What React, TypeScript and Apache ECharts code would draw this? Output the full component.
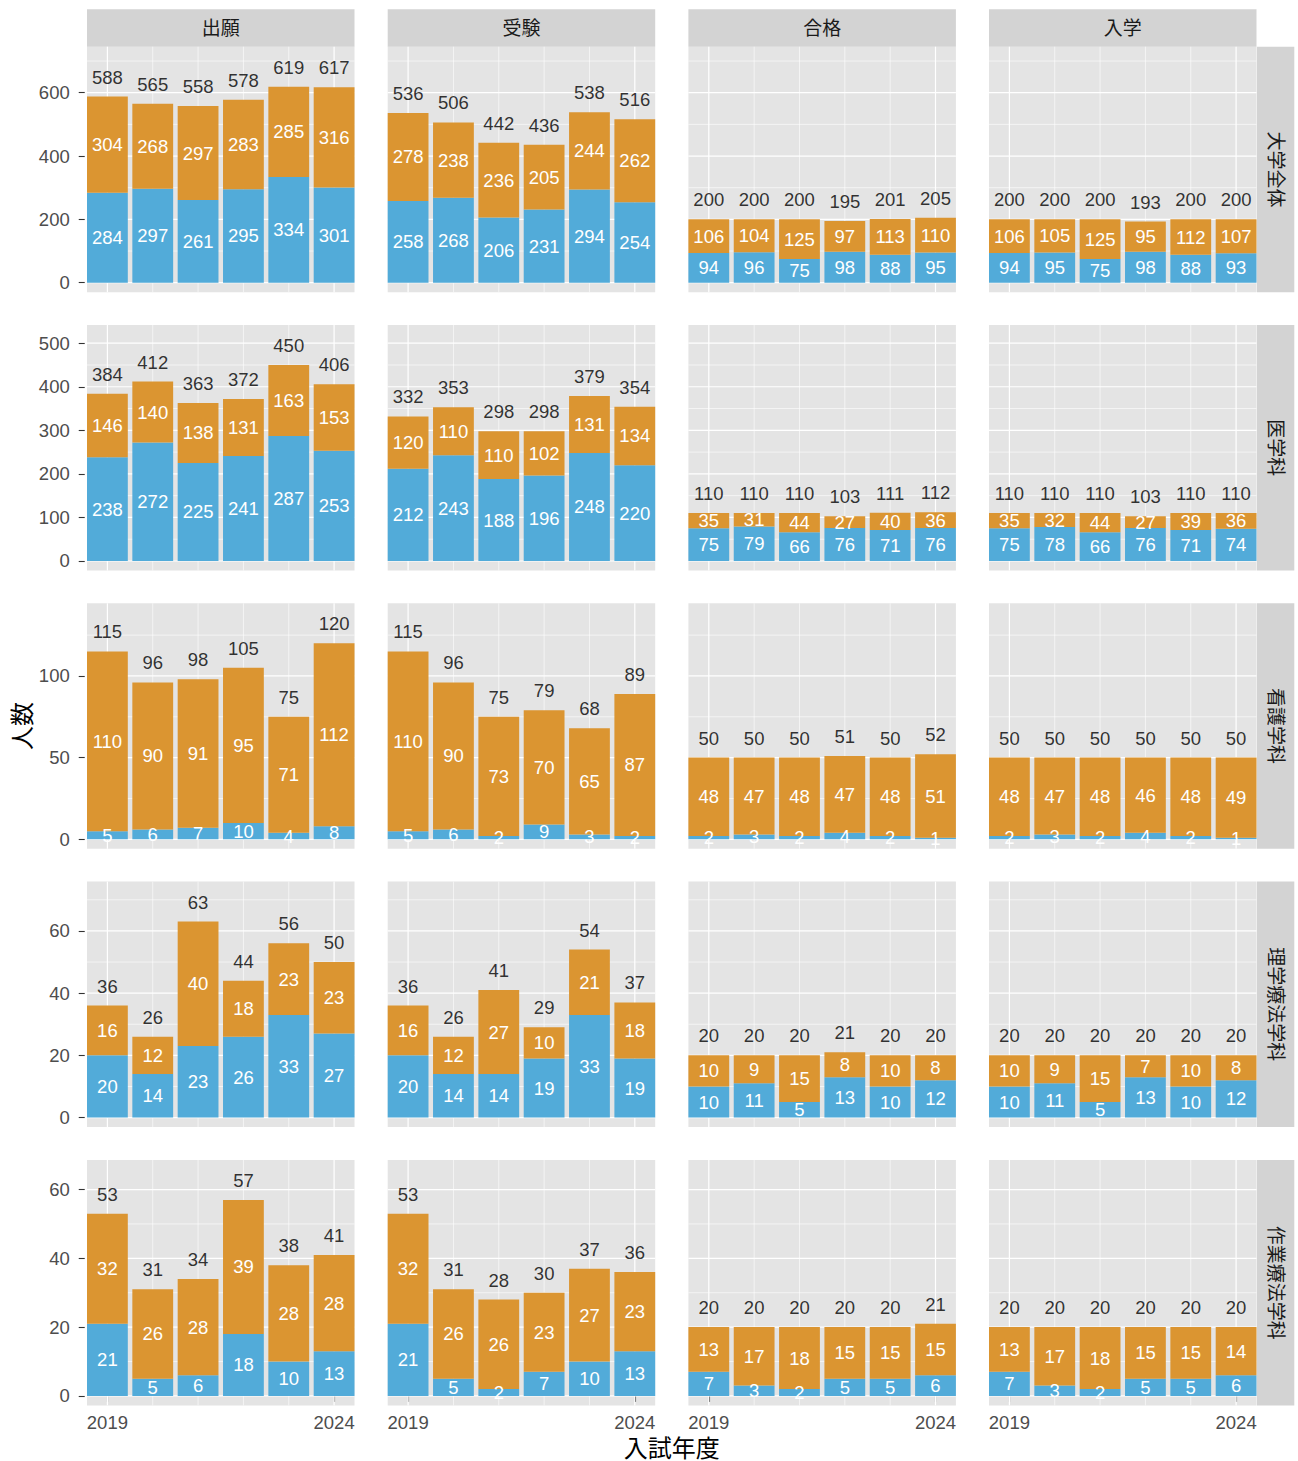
import React, { useEffect, useRef } from 'react';
import * as echarts from 'echarts';

// ---------- data ----------
const years = ['2019', '2020', '2021', '2022', '2023', '2024'];
const stages = ['出願', '受験', '合格', '入学'];
const depts = ['大学全体', '医学科', '看護学科', '理学療法学科', '作業療法学科'];
const xTickLabels = ['2019', '2024'];

// per department: [出願, 受験, 合格, 入学] x years
const blueUniv = [[284, 297, 261, 295, 334, 301], [258, 268, 206, 231, 294, 254], [94, 96, 75, 98, 88, 95], [94, 95, 75, 98, 88, 93]];
const orangeUniv = [[304, 268, 297, 283, 285, 316], [278, 238, 236, 205, 244, 262], [106, 104, 125, 97, 113, 110], [106, 105, 125, 95, 112, 107]];
const blueMed = [[238, 272, 225, 241, 287, 253], [212, 243, 188, 196, 248, 220], [75, 79, 66, 76, 71, 76], [75, 78, 66, 76, 71, 74]];
const orangeMed = [[146, 140, 138, 131, 163, 153], [120, 110, 110, 102, 131, 134], [35, 31, 44, 27, 40, 36], [35, 32, 44, 27, 39, 36]];
const blueNurse = [[5, 6, 7, 10, 4, 8], [5, 6, 2, 9, 3, 2], [2, 3, 2, 4, 2, 1], [2, 3, 2, 4, 2, 1]];
const orangeNurse = [[110, 90, 91, 95, 71, 112], [110, 90, 73, 70, 65, 87], [48, 47, 48, 47, 48, 51], [48, 47, 48, 46, 48, 49]];
const bluePT = [[20, 14, 23, 26, 33, 27], [20, 14, 14, 19, 33, 19], [10, 11, 5, 13, 10, 12], [10, 11, 5, 13, 10, 12]];
const orangePT = [[16, 12, 40, 18, 23, 23], [16, 12, 27, 10, 21, 18], [10, 9, 15, 8, 10, 8], [10, 9, 15, 7, 10, 8]];
const blueOT = [[21, 5, 6, 18, 10, 13], [21, 5, 2, 7, 10, 13], [7, 3, 2, 5, 5, 6], [7, 3, 2, 5, 5, 6]];
const orangeOT = [[32, 26, 28, 39, 28, 28], [32, 26, 26, 23, 27, 23], [13, 17, 18, 15, 15, 15], [13, 17, 18, 15, 15, 14]];

const blueRows = [blueUniv, blueMed, blueNurse, bluePT, blueOT];
const orangeRows = [orangeUniv, orangeMed, orangeNurse, orangePT, orangeOT];

const yMajorTicks = [
  [0, 200, 400, 600],
  [0, 100, 200, 300, 400, 500],
  [0, 50, 100],
  [0, 20, 40, 60],
  [0, 20, 40, 60],
];
const yMinorTicks = [
  [100, 300, 500, 700],
  [50, 150, 250, 350, 450],
  [25, 75, 125],
  [10, 30, 50, 70],
  [10, 30, 50],
];

// ---------- style / layout ----------
const W = 1298;
const H = 1461;
const FONT = '"Liberation Sans", Arial, Helvetica, "Noto Sans CJK JP", sans-serif';
const BLUE = '#52ABD9';
const ORANGE = '#DB9531';
const PANEL_BG = '#E4E4E4';
const STRIP_BG = '#D3D3D3';
const AXIS_TEXT = '#4D4D4D';
const colLeft = [87, 387.7, 688.4, 989];
const rowTop = [46.7, 325, 603.3, 881.6, 1159.9];
const panelW = 267.5;
const panelH = 245.5;
// panel spans 5.9 year-units (bars of width 0.9 touch both edges)
const unitPx = panelW / 5.9;
const ext = 0.05 * unitPx; // category bands extend slightly beyond the panel
const barW = 0.9 * unitPx;

function buildOption() {
  const grid: any[] = [];
  const xAxis: any[] = [];
  const yAxis: any[] = [];
  const series: any[] = [];
  const graphic: any[] = [];

  for (let r = 0; r < depts.length; r++) {
    const totalsRow = blueRows[r].map((b, s) => b.map((v, i) => v + orangeRows[r][s][i]));
    const rowMax = Math.max(...totalsRow.flat());
    const yMin = -0.0485 * rowMax;
    const yMax = 1.204 * rowMax;
    for (let c = 0; c < stages.length; c++) {
      const k = grid.length;
      const isBottom = r === depts.length - 1;
      const isLeft = c === 0;
      graphic.push({
        type: 'rect',
        z: -10,
        shape: { x: colLeft[c], y: rowTop[r], width: panelW, height: panelH },
        style: { fill: PANEL_BG },
        silent: true,
      });
      grid.push({
        left: colLeft[c] - ext,
        top: rowTop[r],
        width: panelW + 2 * ext,
        height: panelH,
        show: false,
        outerBoundsMode: 'none',
        containLabel: false,
      });
      const showX = (i: number, v: string) => xTickLabels.includes(String(v));
      xAxis.push({
        type: 'category',
        gridIndex: k,
        data: years,
        boundaryGap: true,
        splitLine: { show: false },
        axisLine: { show: false },
        axisTick: {
          show: isBottom,
          alignWithLabel: true,
          interval: showX,
          length: 6,
          lineStyle: { color: '#333333', width: 1.1 },
        },
        axisLabel: {
          show: isBottom,
          interval: showX,
          margin: 8,
          color: AXIS_TEXT,
          fontSize: 18.5,
          fontFamily: FONT,
        },
      });
      yAxis.push({
        type: 'value',
        gridIndex: k,
        min: yMin,
        max: yMax,
        splitLine: { show: false },
        axisLine: { show: false },
        axisTick: {
          show: isLeft,
          customValues: yMajorTicks[r],
          length: 6,
          lineStyle: { color: '#333333', width: 1.1 },
        },
        axisLabel: {
          show: isLeft,
          customValues: yMajorTicks[r],
          margin: 15,
          color: AXIS_TEXT,
          fontSize: 18.5,
          fontFamily: FONT,
          formatter: (v: number) => String(Math.round(v)),
        },
      });

      // grid lines: [xIndex, yValue, kind]  kind: 0 y-major, 1 y-minor, 2 x-major, 3 x-minor
      const gl: number[][] = [];
      yMajorTicks[r].forEach((v) => gl.push([0, v, 0]));
      yMinorTicks[r].forEach((v) => gl.push([0, v, 1]));
      years.forEach((y, i) => gl.push([i, 0, xTickLabels.includes(y) ? 2 : 3]));
      series.push({
        type: 'custom',
        xAxisIndex: k,
        yAxisIndex: k,
        z: 1,
        silent: true,
        encode: { x: 0, y: 1 },
        data: gl,
        renderItem: (params: any, api: any) => {
          const xi = api.value(0);
          const v = api.value(1);
          const kind = api.value(2);
          const cs = params.coordSys;
          const e = (cs.width * 0.05) / 6;
          if (kind < 2) {
            const y = api.coord([0, v])[1];
            return {
              type: 'line',
              shape: { x1: cs.x + e, y1: y, x2: cs.x + cs.width - e, y2: y },
              style: { stroke: '#FFFFFF', lineWidth: kind === 0 ? 1.2 : 0.6 },
            };
          }
          const x = api.coord([xi, 0])[0];
          return {
            type: 'line',
            shape: { x1: x, y1: cs.y, x2: x, y2: cs.y + cs.height },
            style: { stroke: '#FFFFFF', lineWidth: kind === 2 ? 1.2 : 0.6 },
          };
        },
      });

      const blue = blueRows[r][c];
      const orange = orangeRows[r][c];
      const totals = totalsRow[c];
      const inLabel = {
        show: true,
        position: 'inside',
        color: '#FFFFFF',
        fontSize: 18.5,
        fontFamily: FONT,
      };
      series.push({
        type: 'bar',
        xAxisIndex: k,
        yAxisIndex: k,
        stack: 'st' + k,
        barWidth: barW,
        z: 2,
        itemStyle: { color: BLUE },
        label: inLabel,
        data: blue,
      });
      series.push({
        type: 'bar',
        xAxisIndex: k,
        yAxisIndex: k,
        stack: 'st' + k,
        barWidth: barW,
        z: 2,
        itemStyle: { color: ORANGE },
        label: inLabel,
        data: orange,
      });
      series.push({
        type: 'scatter',
        xAxisIndex: k,
        yAxisIndex: k,
        z: 3,
        symbolSize: 1,
        itemStyle: { color: 'rgba(0,0,0,0)' },
        label: {
          show: true,
          position: 'inside',
          offset: [0, -19.5],
          color: '#000000',
          fontSize: 18.5,
          fontFamily: FONT,
          formatter: (p: any) => String(p.value),
        },
        data: totals,
      });
    }
  }

  // top strips
  stages.forEach((s, c) => {
    graphic.push({
      type: 'rect',
      shape: { x: colLeft[c], y: 9.3, width: panelW, height: 37.4 },
      style: { fill: STRIP_BG },
      silent: true,
    });
    graphic.push({
      type: 'text',
      x: colLeft[c] + panelW / 2,
      y: 9.3 + 37.4 / 2,
      style: { text: s, fill: '#1A1A1A', fontSize: 19, fontFamily: FONT, textAlign: 'center', textVerticalAlign: 'middle' },
      silent: true,
    });
  });
  // right strips
  depts.forEach((d, r) => {
    graphic.push({
      type: 'rect',
      shape: { x: 1256.9, y: rowTop[r], width: 37.4, height: panelH },
      style: { fill: STRIP_BG },
      silent: true,
    });
    graphic.push({
      type: 'text',
      x: 1256.9 + 37.4 / 2,
      y: rowTop[r] + panelH / 2,
      rotation: -Math.PI / 2,
      style: { text: d, fill: '#1A1A1A', fontSize: 19, fontFamily: FONT, textAlign: 'center', textVerticalAlign: 'middle' },
      silent: true,
    });
  });
  // axis titles
  graphic.push({
    type: 'text',
    x: 22,
    y: (rowTop[0] + rowTop[4] + panelH) / 2,
    rotation: Math.PI / 2,
    style: { text: '人数', fill: '#000000', fontSize: 24, fontFamily: FONT, textAlign: 'center', textVerticalAlign: 'middle' },
    silent: true,
  });
  graphic.push({
    type: 'text',
    x: (colLeft[0] + colLeft[3] + panelW) / 2,
    y: 1448,
    style: { text: '入試年度', fill: '#000000', fontSize: 24, fontFamily: FONT, textAlign: 'center', textVerticalAlign: 'middle' },
    silent: true,
  });

  return {
    animation: false,
    backgroundColor: '#FFFFFF',
    grid,
    xAxis,
    yAxis,
    series,
    graphic: { elements: graphic },
  };
}

export default function App() {
  const ref = useRef<HTMLDivElement>(null);
  useEffect(() => {
    document.body.style.margin = '0';
    if (!ref.current) return;
    const chart = echarts.init(ref.current, undefined, { renderer: 'svg', width: W, height: H });
    chart.setOption(buildOption() as any);
    return () => {
      chart.dispose();
    };
  }, []);
  return <div ref={ref} style={{ position: 'absolute', left: 0, top: 0, width: W, height: H }} />;
}
